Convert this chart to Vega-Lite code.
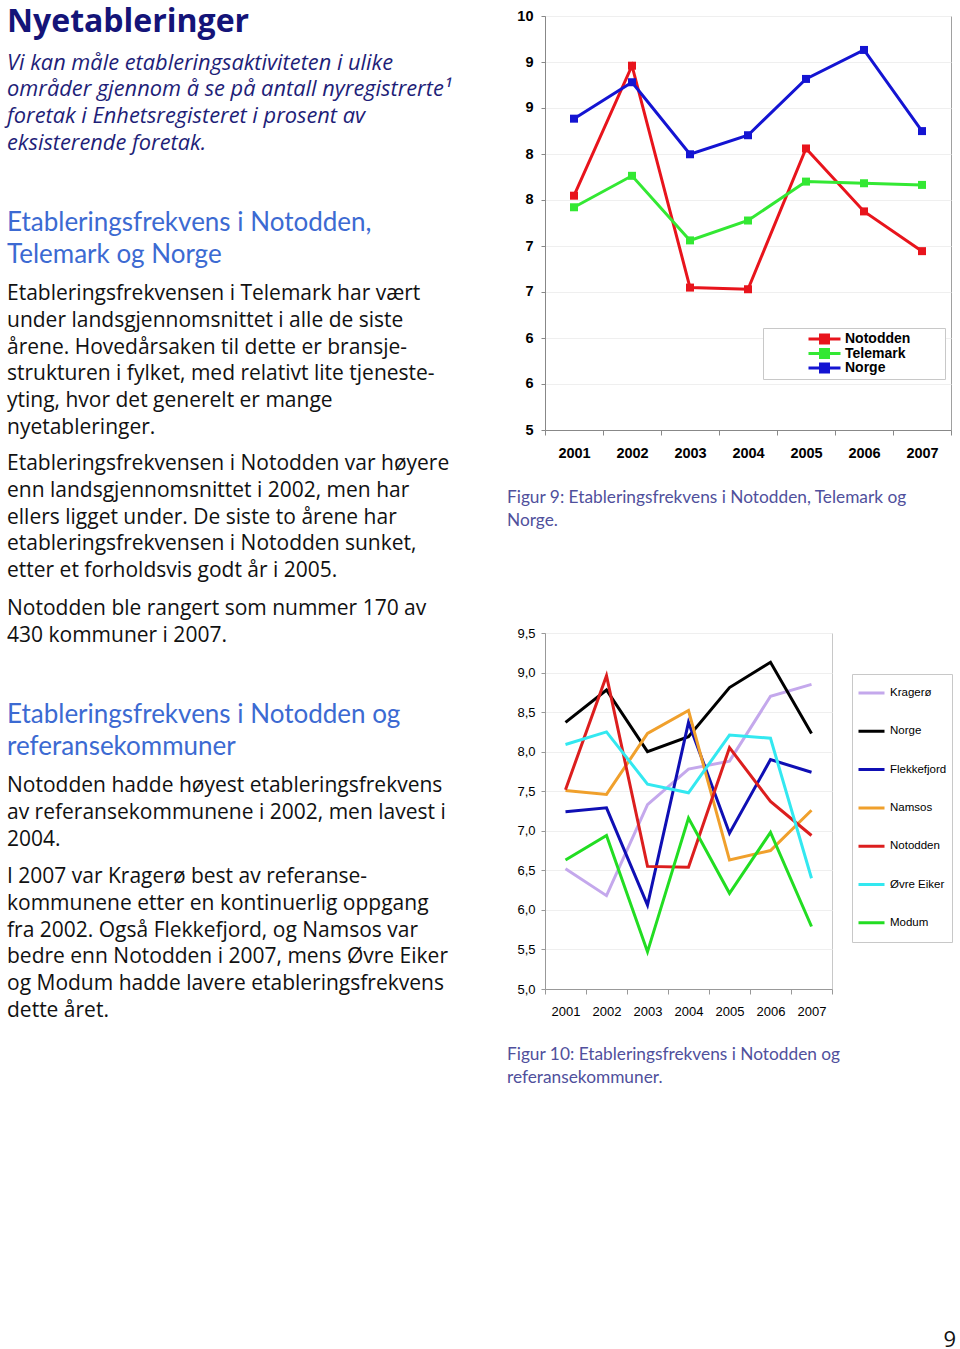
{
  "$schema": "https://vega.github.io/schema/vega-lite/v6.json",
  "background": "white",
  "padding": {"left": 7, "top": 5, "right": 0, "bottom": 0},
  "config": {
    "view": {"stroke": null},
    "font": "Liberation Sans",
    "title": {"anchor": "start", "frame": "group", "orient": "bottom", "offset": 0}
  },
  "resolve": {"scale": {"color": "independent"}, "legend": {"color": "independent"}},
  "datasets": {
    "fig9": [
      {"year": "2001", "region": "Notodden", "value": 7.83},
      {"year": "2002", "region": "Notodden", "value": 9.40},
      {"year": "2003", "region": "Notodden", "value": 6.72},
      {"year": "2004", "region": "Notodden", "value": 6.70},
      {"year": "2005", "region": "Notodden", "value": 8.40},
      {"year": "2006", "region": "Notodden", "value": 7.64},
      {"year": "2007", "region": "Notodden", "value": 7.16},
      {"year": "2001", "region": "Telemark", "value": 7.69},
      {"year": "2002", "region": "Telemark", "value": 8.07},
      {"year": "2003", "region": "Telemark", "value": 7.29},
      {"year": "2004", "region": "Telemark", "value": 7.53},
      {"year": "2005", "region": "Telemark", "value": 8.00},
      {"year": "2006", "region": "Telemark", "value": 7.98},
      {"year": "2007", "region": "Telemark", "value": 7.96},
      {"year": "2001", "region": "Norge", "value": 8.76},
      {"year": "2002", "region": "Norge", "value": 9.20},
      {"year": "2003", "region": "Norge", "value": 8.33},
      {"year": "2004", "region": "Norge", "value": 8.56},
      {"year": "2005", "region": "Norge", "value": 9.24},
      {"year": "2006", "region": "Norge", "value": 9.59},
      {"year": "2007", "region": "Norge", "value": 8.61}
    ],
    "fig10": [
      {"year": "2001", "kommune": "Kragerø", "value": 6.52},
      {"year": "2002", "kommune": "Kragerø", "value": 6.18},
      {"year": "2003", "kommune": "Kragerø", "value": 7.33},
      {"year": "2004", "kommune": "Kragerø", "value": 7.78},
      {"year": "2005", "kommune": "Kragerø", "value": 7.88},
      {"year": "2006", "kommune": "Kragerø", "value": 8.70},
      {"year": "2007", "kommune": "Kragerø", "value": 8.85},
      {"year": "2001", "kommune": "Norge", "value": 8.37},
      {"year": "2002", "kommune": "Norge", "value": 8.78},
      {"year": "2003", "kommune": "Norge", "value": 8.00},
      {"year": "2004", "kommune": "Norge", "value": 8.19},
      {"year": "2005", "kommune": "Norge", "value": 8.81},
      {"year": "2006", "kommune": "Norge", "value": 9.13},
      {"year": "2007", "kommune": "Norge", "value": 8.23},
      {"year": "2001", "kommune": "Flekkefjord", "value": 7.24},
      {"year": "2002", "kommune": "Flekkefjord", "value": 7.29},
      {"year": "2003", "kommune": "Flekkefjord", "value": 6.06},
      {"year": "2004", "kommune": "Flekkefjord", "value": 8.37},
      {"year": "2005", "kommune": "Flekkefjord", "value": 6.97},
      {"year": "2006", "kommune": "Flekkefjord", "value": 7.90},
      {"year": "2007", "kommune": "Flekkefjord", "value": 7.74},
      {"year": "2001", "kommune": "Namsos", "value": 7.51},
      {"year": "2002", "kommune": "Namsos", "value": 7.46},
      {"year": "2003", "kommune": "Namsos", "value": 8.23},
      {"year": "2004", "kommune": "Namsos", "value": 8.52},
      {"year": "2005", "kommune": "Namsos", "value": 6.63},
      {"year": "2006", "kommune": "Namsos", "value": 6.75},
      {"year": "2007", "kommune": "Namsos", "value": 7.26},
      {"year": "2001", "kommune": "Notodden", "value": 7.52},
      {"year": "2002", "kommune": "Notodden", "value": 8.96},
      {"year": "2003", "kommune": "Notodden", "value": 6.55},
      {"year": "2004", "kommune": "Notodden", "value": 6.54},
      {"year": "2005", "kommune": "Notodden", "value": 8.05},
      {"year": "2006", "kommune": "Notodden", "value": 7.37},
      {"year": "2007", "kommune": "Notodden", "value": 6.94},
      {"year": "2001", "kommune": "Øvre Eiker", "value": 8.09},
      {"year": "2002", "kommune": "Øvre Eiker", "value": 8.25},
      {"year": "2003", "kommune": "Øvre Eiker", "value": 7.59},
      {"year": "2004", "kommune": "Øvre Eiker", "value": 7.48},
      {"year": "2005", "kommune": "Øvre Eiker", "value": 8.21},
      {"year": "2006", "kommune": "Øvre Eiker", "value": 8.17},
      {"year": "2007", "kommune": "Øvre Eiker", "value": 6.40},
      {"year": "2001", "kommune": "Modum", "value": 6.63},
      {"year": "2002", "kommune": "Modum", "value": 6.94},
      {"year": "2003", "kommune": "Modum", "value": 5.47},
      {"year": "2004", "kommune": "Modum", "value": 7.16},
      {"year": "2005", "kommune": "Modum", "value": 6.21},
      {"year": "2006", "kommune": "Modum", "value": 6.98},
      {"year": "2007", "kommune": "Modum", "value": 5.79}
    ]
  },
  "spacing": 44,
  "hconcat": [
    {
      "spacing": 0,
      "vconcat": [
        {
          "width": 455, "height": 0,
          "data": {"values": []}, "mark": "text", "encoding": {},
          "title": {
            "text": "Nyetableringer", "offset": -29.5, "font": "Open Sans", "fontSize": 32, "fontWeight": "bold", "color": "#141478", "lineHeight": 32,
            "subtitle": ["Vi kan måle etableringsaktiviteten i ulike", "områder gjennom å se på antall nyregistrerte¹", "foretak i Enhetsregisteret i prosent av", "eksisterende foretak."],
            "subtitleFont": "Open Sans", "subtitleFontSize": 21.8, "subtitleFontStyle": "italic", "subtitleColor": "#1e1e78", "subtitleLineHeight": 26.7, "subtitlePadding": 14
          }
        },
        {
          "width": 455, "height": 51,
          "data": {"values": []}, "mark": "text", "encoding": {},
          "title": {
            "text": ["Etableringsfrekvens i Notodden,", "Telemark og Norge"], "font": "Lato", "fontSize": 26, "fontWeight": "normal", "color": "#3c6ad2", "lineHeight": 32,
            "subtitle": ["Etableringsfrekvensen i Telemark har vært", "under landsgjennomsnittet i alle de siste", "årene.  Hovedårsaken til dette er bransje-", "strukturen i fylket, med relativt lite tjeneste-", "yting, hvor det generelt er mange", "nyetableringer."],
            "subtitleFont": "Open Sans", "subtitleFontSize": 21, "subtitleColor": "#111111", "subtitleLineHeight": 26.8, "subtitlePadding": 15
          }
        },
        {
          "width": 455, "height": 11,
          "data": {"values": []}, "mark": "text", "encoding": {},
          "title": {
            "text": ["Etableringsfrekvensen i Notodden var høyere", "enn landsgjennomsnittet i 2002, men har", "ellers ligget under.  De siste to årene har", "etableringsfrekvensen i Notodden sunket,", "etter et forholdsvis godt år i 2005."],
            "font": "Open Sans", "fontSize": 21, "fontWeight": "normal", "color": "#111111", "lineHeight": 26.8
          }
        },
        {
          "width": 455, "height": 12,
          "data": {"values": []}, "mark": "text", "encoding": {},
          "title": {
            "text": ["Notodden ble rangert som nummer 170 av", "430 kommuner i 2007."],
            "font": "Open Sans", "fontSize": 21, "fontWeight": "normal", "color": "#111111", "lineHeight": 26.8
          }
        },
        {
          "width": 455, "height": 52,
          "data": {"values": []}, "mark": "text", "encoding": {},
          "title": {
            "text": ["Etableringsfrekvens i Notodden og", "referansekommuner"], "font": "Lato", "fontSize": 26, "fontWeight": "normal", "color": "#3c6ad2", "lineHeight": 32,
            "subtitle": ["Notodden hadde høyest etableringsfrekvens", "av referansekommunene i 2002, men lavest i", "2004."],
            "subtitleFont": "Open Sans", "subtitleFontSize": 21, "subtitleColor": "#111111", "subtitleLineHeight": 26.8, "subtitlePadding": 15
          }
        },
        {
          "width": 455, "height": 12,
          "data": {"values": []}, "mark": "text", "encoding": {},
          "title": {
            "text": ["I 2007 var Kragerø best av referanse-", "kommunene etter en kontinuerlig oppgang", "fra 2002.  Også Flekkefjord, og Namsos var", "bedre enn Notodden i 2007, mens Øvre Eiker", "og Modum hadde lavere etableringsfrekvens", "dette året."],
            "font": "Open Sans", "fontSize": 21, "fontWeight": "normal", "color": "#111111", "lineHeight": 26.8
          }
        }
      ]
    },
    {
      "spacing": 96,
      "resolve": {"scale": {"color": "independent"}, "legend": {"color": "independent"}},
      "vconcat": [
        {
          "width": 406, "height": 414,
          "view": {"stroke": "#a0a0a0"},
          "data": {"name": "fig9"},
          "title": {
            "text": ["Figur 9: Etableringsfrekvens i Notodden, Telemark og", "Norge."],
            "orient": "bottom", "anchor": "start", "dx": -38, "offset": 29,
            "font": "Lato", "fontSize": 17.3, "fontWeight": "normal", "color": "#50509c", "lineHeight": 23
          },
          "encoding": {
            "x": {"field": "year", "type": "ordinal", "bandPosition": 0.5,
              "scale": {"type": "band", "paddingInner": 0, "paddingOuter": 0},
              "axis": {"title": null, "labelAngle": 0, "labelFont": "Liberation Sans", "labelFontSize": 14.5, "labelFontWeight": "bold", "labelColor": "black", "tickBand": "extent", "tickColor": "#888888", "tickSize": 5, "domainColor": "#888888", "labelPadding": 11, "grid": false}},
            "y": {"field": "value", "type": "quantitative",
              "scale": {"domain": [5, 10], "nice": false, "zero": false},
              "axis": {"title": null, "values": [5, 5.5556, 6.1111, 6.6667, 7.2222, 7.7778, 8.3333, 8.8889, 9.4444, 10], "format": ".0f", "labelFont": "Liberation Sans", "labelFontSize": 14.5, "labelFontWeight": "bold", "labelColor": "black", "tickColor": "#888888", "tickSize": 4, "domainColor": "#888888", "labelPadding": 8, "gridColor": "#efefef"}},
            "color": {"field": "region", "type": "nominal",
              "scale": {"domain": ["Notodden", "Telemark", "Norge"], "range": ["#e8141c", "#33e833", "#1414d2"]},
              "legend": {"orient": "none", "legendX": 218, "legendY": 312, "title": " ", "titleOrient": "right", "titleFontSize": 4, "titlePadding": 31, "strokeColor": "#c8c8c8", "fillColor": "white", "padding": 4,
                "symbolType": "M-1,0L1,0M-0.25,-0.25L0.25,-0.25L0.25,0.25L-0.25,0.25Z", "symbolSize": 1024, "symbolStrokeWidth": 3, "symbolOffset": 40,
                "labelFont": "Liberation Sans", "labelFontSize": 14, "labelFontWeight": "bold", "labelColor": "black", "labelOffset": 3, "clipHeight": 14, "rowPadding": 0.5,
                "encode": {"symbols": {"update": {"fill": {"scale": "color", "field": "value"}, "fillOpacity": {"value": 1}, "opacity": {"value": 1}}}}}}
          },
          "layer": [
            {"mark": {"type": "line", "strokeWidth": 3}},
            {"mark": {"type": "point", "shape": "square", "filled": true, "size": 64, "opacity": 1}}
          ]
        },
        {
          "width": 287, "height": 356,
          "view": {"stroke": "#c8c8c8"},
          "data": {"name": "fig10"},
          "title": {
            "text": ["Figur 10: Etableringsfrekvens i Notodden og", "referansekommuner."],
            "orient": "bottom", "anchor": "start", "dx": -38, "offset": 28,
            "font": "Lato", "fontSize": 17.3, "fontWeight": "normal", "color": "#50509c", "lineHeight": 23
          },
          "mark": {"type": "line", "strokeWidth": 3},
          "encoding": {
            "x": {"field": "year", "type": "ordinal", "bandPosition": 0.5,
              "scale": {"type": "band", "paddingInner": 0, "paddingOuter": 0},
              "axis": {"title": null, "labelAngle": 0, "labelFont": "Liberation Sans", "labelFontSize": 13, "labelColor": "black", "tickBand": "extent", "tickColor": "#999999", "tickSize": 5, "domainColor": "#999999", "labelPadding": 11, "grid": false}},
            "y": {"field": "value", "type": "quantitative",
              "scale": {"domain": [5, 9.5], "nice": false, "zero": false},
              "axis": {"title": null, "values": [5, 5.5, 6, 6.5, 7, 7.5, 8, 8.5, 9, 9.5], "labelExpr": "replace(format(datum.value, '.1f'), '.', ',')", "labelFont": "Liberation Sans", "labelFontSize": 13, "labelColor": "black", "tickColor": "#999999", "tickSize": 4, "domainColor": "#999999", "labelPadding": 6, "gridColor": "#efefef"}},
            "color": {"field": "kommune", "type": "nominal",
              "scale": {"domain": ["Kragerø", "Norge", "Flekkefjord", "Namsos", "Notodden", "Øvre Eiker", "Modum"], "range": ["#c4a8ec", "#000000", "#0f0fb4", "#f0a02c", "#dc1e1e", "#33e8f0", "#22dd22"]},
              "legend": {"orient": "none", "legendX": 307, "legendY": 41, "title": null, "strokeColor": "#c8c8c8", "fillColor": "white", "padding": 5,
                "symbolType": "stroke", "symbolSize": 676, "symbolStrokeWidth": 3,
                "labelFont": "Liberation Sans", "labelFontSize": 11.5, "labelColor": "black", "labelOffset": 4, "clipHeight": 28, "rowPadding": 10.3}}
          }
        },
        {
          "width": 406, "height": 143,
          "data": {"values": []}, "mark": "text", "encoding": {},
          "title": {"text": "9", "orient": "bottom", "anchor": "end", "dx": 5, "font": "Open Sans", "fontSize": 22, "fontWeight": "normal", "color": "#111111"}
        }
      ]
    }
  ]
}
